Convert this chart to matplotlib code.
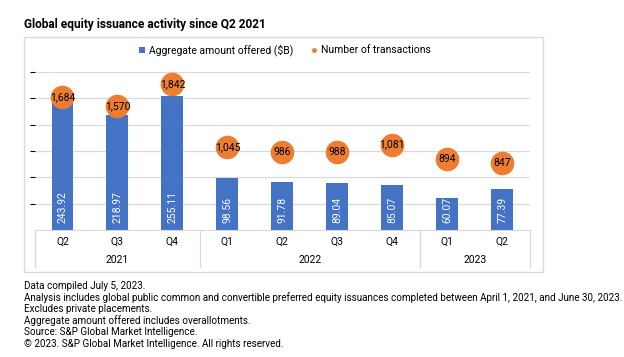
import matplotlib.pyplot as plt
from matplotlib.lines import Line2D
from matplotlib.patches import Rectangle
from matplotlib.transforms import blended_transform_factory

plt.rcParams['font.family'] = ['Roboto', 'DejaVu Sans']

quarters = ['Q2', 'Q3', 'Q4', 'Q1', 'Q2', 'Q3', 'Q4', 'Q1', 'Q2']
years = ['2021', '2022', '2023']
year_spans = [(0, 2), (3, 6), (7, 8)]
amount_offered = [243.92, 218.97, 255.11, 98.56, 91.78, 89.04, 85.07, 60.07, 77.39]
transactions = [1684, 1570, 1842, 1045, 986, 988, 1081, 894, 847]

notes = [
    'Data compiled July 5, 2023.',
    'Analysis includes global public common and convertible preferred equity issuances completed between April 1, 2021, and June 30, 2023.',
    'Excludes private placements.',
    'Aggregate amount offered includes overallotments.',
    'Source: S&P Global Market Intelligence.',
    '\u00a9 2023. S&P Global Market Intelligence. All rights reserved.',
]

BLUE = '#4472C4'
ORANGE = '#ED7D31'
GRID = '#D9D9D9'

fig = plt.figure(figsize=(6.24, 3.57), dpi=100)
fig.patch.set_facecolor('white')

# light frame around the chart block
fig.patches.append(Rectangle((0.0385, 0.238), 0.832, 0.658, transform=fig.transFigure,
                             fill=False, edgecolor='#D9D9D9', linewidth=1.0))

ax = fig.add_axes([0.0561, 0.3557, 0.793, 0.4426])
x = list(range(len(quarters)))

bars = ax.bar(x, amount_offered, width=0.4, color=BLUE, zorder=2,
              label='Aggregate amount offered ($B)')
ax.set_ylim(0, 300)
ax.set_xlim(-0.5, len(quarters) - 0.5)
ax.set_yticks([50, 100, 150, 200, 250, 300])
ax.yaxis.grid(True, color=GRID, linewidth=0.9, zorder=0)
ax.set_axisbelow(True)
ax.tick_params(left=False, labelleft=False, bottom=False, labelbottom=False)
for side in ['top', 'right', 'left']:
    ax.spines[side].set_visible(False)
ax.spines['bottom'].set_color(GRID)

for xi, val in zip(x, amount_offered):
    ax.annotate(f'{val:.2f}', (xi, 0), xytext=(0, 5), textcoords='offset points',
                rotation=90, ha='center', va='bottom', color='white', fontsize=7.5, zorder=3)

ax2 = ax.twinx()
ax2.set_ylim(0, 2000)
ax2.plot(x, transactions, linestyle='none', marker='o', markersize=16, color=ORANGE, zorder=3)
ax2.tick_params(right=False, labelright=False)
for side in ['top', 'right', 'left', 'bottom']:
    ax2.spines[side].set_visible(False)
for xi, val in zip(x, transactions):
    ax2.text(xi, val, f'{val:,}', ha='center', va='center', fontsize=7.5, color='black', zorder=4)

# two-level category axis
trans = blended_transform_factory(ax.transData, ax.transAxes)
for xi, q in zip(x, quarters):
    ax.text(xi, -0.076, q, transform=trans, ha='center', va='center', fontsize=7.5)
for year, (start, end) in zip(years, year_spans):
    ax.text((start + end) / 2, -0.19, year, transform=trans, ha='center', va='center', fontsize=7.5)
for edge in [-0.5, 2.5, 6.5, 8.5]:
    ax.plot([edge, edge], [0, -0.234], transform=trans, color=GRID, linewidth=0.9, clip_on=False)

dot_key = Line2D([], [], linestyle='none', marker='o', markersize=3.5, markeredgewidth=0,
                 color=ORANGE, label='Number of transactions')
fig.legend(handles=[bars, dot_key], loc='center', bbox_to_anchor=(0.457, 0.86), ncol=2,
           frameon=False, fontsize=7.5, handlelength=0.5, handleheight=0.5,
           columnspacing=1.8, handletextpad=0.4)

fig.text(0.0385, 0.93, 'Global equity issuance activity since Q2 2021', fontsize=8.6,
         fontweight='bold', ha='left', va='center')

for i, line in enumerate(notes):
    fig.text(0.0385, 1 - (286 + i * 11.6) / 357, line, fontsize=7.1, ha='left', va='center')

fig.savefig('out.png', dpi=100)
